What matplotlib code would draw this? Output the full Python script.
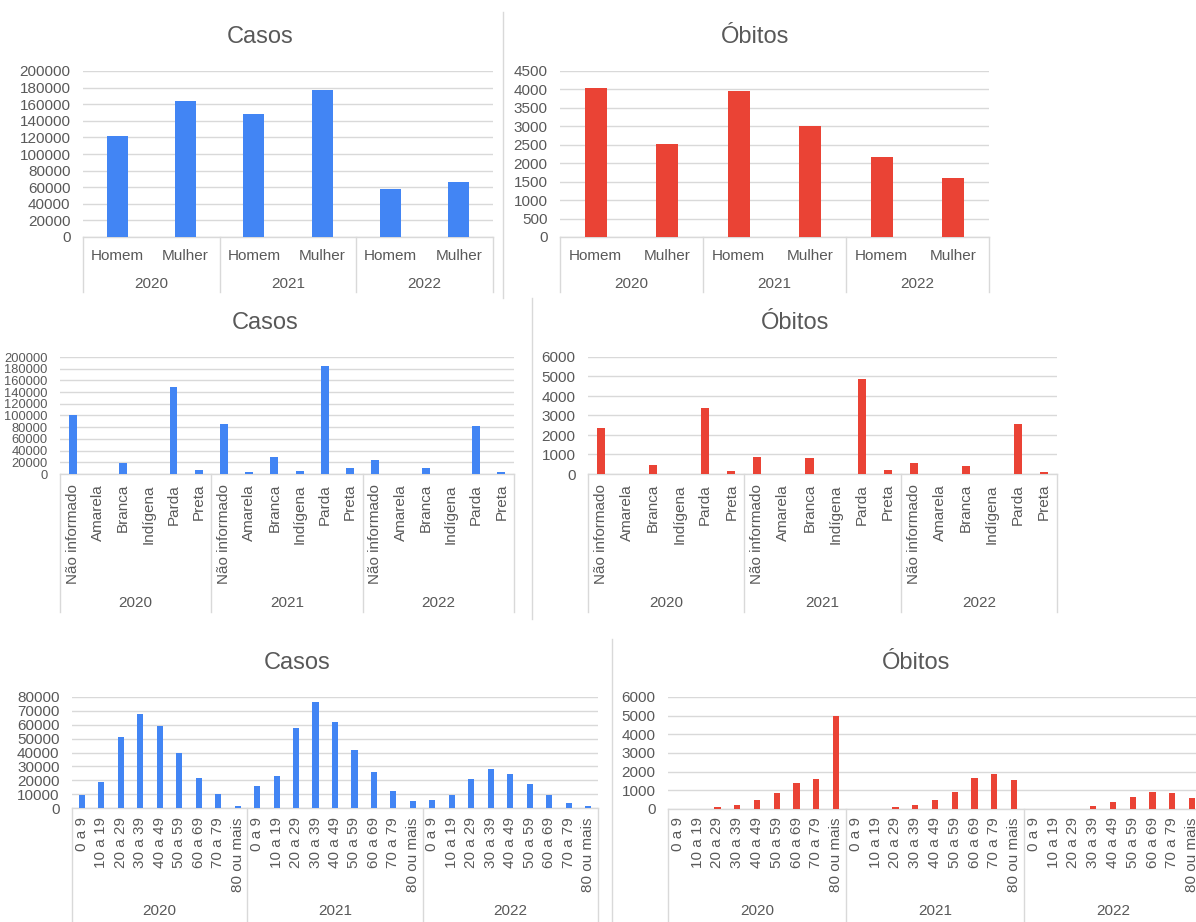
import matplotlib
matplotlib.use("Agg")
import matplotlib.pyplot as plt
from matplotlib.transforms import blended_transform_factory

plt.rcParams['font.family'] = ['Liberation Sans', 'DejaVu Sans']

W, H = 1196, 922
BLUE = '#4285F4'
RED = '#EA4335'
TXT = '#595959'
GRID = '#d9d9d9'

years = ['2020', '2021', '2022']

# --- sexo ---
sexo = ['Homem', 'Mulher']
casos_sexo = [[122000, 164000], [148000, 177500], [58000, 65700]]
obitos_sexo = [[4030, 2515], [3960, 3000], [2170, 1590]]

# --- raça/cor ---
raca = ['Não informado', 'Amarela', 'Branca', 'Indígena', 'Parda', 'Preta']
casos_raca = [[101000, 0, 18500, 0, 149500, 7000],
              [86200, 2900, 29300, 4600, 184500, 9800],
              [24700, 0, 9500, 0, 81600, 2900]]
obitos_raca = [[2380, 0, 480, 0, 3380, 140],
               [880, 0, 810, 0, 4880, 210],
               [540, 0, 420, 0, 2570, 90]]

# --- faixa etária ---
faixa = ['0 a 9', '10 a 19', '20 a 29', '30 a 39', '40 a 49',
         '50 a 59', '60 a 69', '70 a 79', '80 ou mais']
casos_faixa = [[9700, 18700, 51200, 67600, 59400, 39300, 21600, 10400, 1200],
               [16000, 23300, 57700, 76100, 62300, 41900, 26200, 12400, 4850],
               [5800, 9700, 20600, 28100, 24500, 17000, 9700, 3900, 1450]]
obitos_faixa = [[5, 10, 110, 235, 505, 850, 1405, 1605, 4990],
                [5, 10, 90, 235, 460, 920, 1680, 1890, 1530],
                [0, 0, 10, 160, 360, 650, 920, 850, 580]]

fig = plt.figure(figsize=(W / 100, H / 100), dpi=100)


def fy(y):
    return 1 - y / H


def panel(x0, x1, ytop, ybot, cats, vals, color, ymax, ystep, title, title_xy,
          rotated, cat_y, year_y, box_bottom, tick_fs=11, cat_fs=11):
    ax = fig.add_axes([x0 / W, fy(ybot), (x1 - x0) / W, (ybot - ytop) / H])
    n = len(cats)
    xs, hs = [], []
    for g, row in enumerate(vals):
        for i, v in enumerate(row):
            xs.append(g * n + i)
            hs.append(v)
    ax.bar(xs, hs, width=0.31, color=color, zorder=3)
    total = n * len(vals)
    ax.set_xlim(-0.5, total - 0.5)
    ax.set_ylim(0, ymax)
    ax.set_yticks(range(0, ymax + 1, ystep))
    ax.tick_params(axis='y', length=0, pad=9, labelsize=tick_fs, labelcolor=TXT)
    ax.set_xticks([])
    ax.grid(axis='y', color=GRID, lw=1, zorder=0)
    for s in ['top', 'right', 'left']:
        ax.spines[s].set_visible(False)
    ax.spines['bottom'].set_color(GRID)
    ax.spines['bottom'].set_linewidth(1)
    ax.set_axisbelow(True)

    tr = blended_transform_factory(ax.transData, fig.transFigure)
    # category labels
    for g in range(len(vals)):
        for i, c in enumerate(cats):
            x = g * n + i
            if rotated:
                ax.text(x, fy(cat_y), c, transform=tr, rotation=90,
                        ha='center', va='top', fontsize=cat_fs, color=TXT)
            else:
                ax.text(x, fy(cat_y), c, transform=tr, ha='center',
                        va='center', fontsize=cat_fs, color=TXT)
        ax.text(g * n + (n - 1) / 2, fy(year_y), years[g], transform=tr,
                ha='center', va='center', fontsize=cat_fs, color=TXT)
    # group separators of the category axis
    for g in range(len(vals) + 1):
        xb = g * n - 0.5
        ax.plot([xb, xb], [fy(ybot), fy(box_bottom)], transform=tr,
                color=GRID, lw=1, clip_on=False)
    fig.text(title_xy[0] / W, fy(title_xy[1]), title, ha='center',
             va='center', fontsize=17, color=TXT)
    return ax


# top row: sexo
panel(83, 493, 71, 237, sexo, casos_sexo, BLUE, 200000, 20000, 'Casos',
      (260, 37), False, 256, 284, 292)
panel(560, 989, 71, 237, sexo, obitos_sexo, RED, 4500, 500, 'Óbitos',
      (755, 37), False, 256, 284, 292)

# middle row: raça/cor
panel(60, 514, 357, 474, raca, casos_raca, BLUE, 200000, 20000, 'Casos',
      (265, 323), True, 484, 603, 612, tick_fs=9.3)
panel(588, 1057, 357, 474, raca, obitos_raca, RED, 6000, 1000, 'Óbitos',
      (795, 323), True, 484, 603, 612)

# bottom row: faixa etária (right chart runs past the page edge)
panel(72, 598, 697, 808, faixa, casos_faixa, BLUE, 80000, 10000, 'Casos',
      (297, 663), True, 817, 911, 930)
panel(668, 1202, 697, 809, faixa, obitos_faixa, RED, 6000, 1000, 'Óbitos',
      (916, 663), True, 817, 911, 930)

# thin separators between the stacked charts
for (x, y0, y1) in [(503, 12, 298), (532, 298, 619), (612, 639, 922)]:
    fig.add_artist(plt.Line2D([x / W, x / W], [fy(y0), fy(y1)],
                              color=GRID, lw=1))

fig.savefig('out.png', dpi=100, facecolor='white')
